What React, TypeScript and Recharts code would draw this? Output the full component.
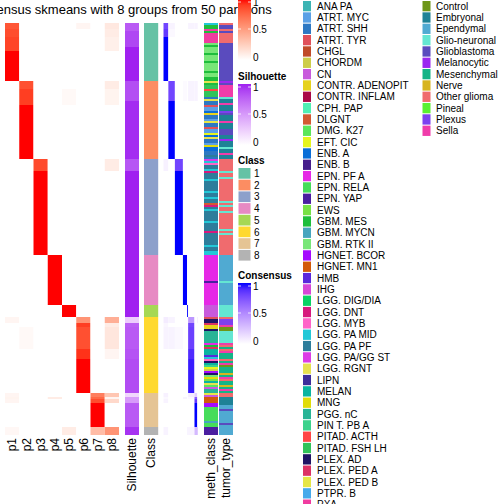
import React from "react";
import { BarChart, Bar, XAxis, YAxis, Cell } from "recharts";

const title = "Consensus skmeans with 8 groups from 50 partitions";
const classSizes = [29, 39, 48, 25, 6, 38, 17, 4];
const classColors = ["#66C2A5", "#FC8D62", "#8DA0CB", "#E78AC3", "#A6D854", "#FFD92F", "#E5C494", "#B3B3B3"];
const probColumns = ["p1", "p2", "p3", "p4", "p5", "p6", "p7", "p8"];

// per class: [rows, p1..p8]
const probRuns: number[][][] = [
  [[3, .82, 0, 0, 0, 0, .05, 0, .12], [4, .85, 0, 0, 0, 0, 0, 0, .1], [7, .88, 0, 0, 0, 0, 0, 0, .08], [15, 1, 0, 0, 0, 0, 0, 0, 0]],
  [[4, 0, .84, 0, 0, 0, 0, 0, .1], [8, 0, .9, 0, 0, .03, 0, 0, .06], [27, 0, 1, 0, 0, 0, 0, 0, 0]],
  [[6, 0, 0, .86, 0, 0, 0, 0, .1], [42, 0, 0, 1, 0, 0, 0, 0, 0]],
  [[25, 0, 0, 0, 1, 0, 0, 0, 0]],
  [[6, 0, 0, 0, 0, 1, 0, 0, 0]],
  [[3, .05, 0, 0, 0, 0, .55, 0, .42], [2, 0, 0, 0, 0, 0, .9, 0, .1], [11, 0, .03, 0, 0, 0, .84, 0, .13], [5, 0, 0, 0, 0, 0, .93, 0, .05], [17, 0, 0, 0, 0, 0, 1, 0, 0]],
  [[2, .05, 0, 0, 0, 0, 0, .65, .3], [1, .06, 0, 0, .1, 0, 0, .75, .05], [2, .05, 0, 0, 0, 0, 0, .85, .2], [12, 0, 0, 0, 0, 0, 0, 1, 0]],
  [[4, .04, 0, 0, 0, .1, 0, .35, .55]],
];

// per class: [rows, silhouette]
const silRuns: number[][][] = [
  [[4, .8], [8, .88], [17, 1]],
  [[10, .85], [29, .97]],
  [[6, .82], [42, 1]],
  [[25, 1]],
  [[6, 1]],
  [[3, .25], [2, .78], [11, .8], [5, .83], [17, .86]],
  [[2, .2], [3, .5], [12, .8]],
  [[4, .95]],
];

// per class: [rows, consensus with class 1..8]
const consRuns: number[][][] = [
  [[3, .8, .05, 0, 0, 0, .05, .05, .05], [4, .85, .03, 0, 0, 0, 0, 0, 0], [22, 1, 0, 0, 0, 0, 0, 0, 0]],
  [[10, 0, .8, 0, .02, 0, .05, .05, .05], [29, 0, 1, 0, 0, 0, 0, 0, 0]],
  [[6, .06, 0, .8, 0, 0, 0, 0, 0], [42, 0, 0, 1, 0, 0, 0, 0, 0]],
  [[25, 0, 0, 0, 1, 0, 0, 0, 0]],
  [[6, 0, 0, 0, 0, 1, 0, 0, 0]],
  [[3, .08, .05, 0, 0, 0, .45, 0, .1], [2, .04, 0, 0, 0, 0, .8, 0, 0], [11, .05, .05, .03, 0, 0, .82, 0, 0], [5, 0, 0, 0, 0, 0, .9, 0, 0], [17, 0, 0, 0, 0, 0, .95, 0, 0]],
  [[2, .06, 0, 0, 0, 0, .08, .2, 0], [1, .03, 0, 0, .05, 0, .03, .7, 0], [2, .05, 0, 0, 0, 0, 0, .85, 0], [12, 0, 0, 0, 0, 0, 0, 1, 0]],
  [[4, .05, 0, 0, 0, .05, .05, .3, .3]],
];

const methLevels: [string, string][] = [
  ["ANA PA", "#3CB4B4"], ["ATRT. MYC", "#5AA0E6"], ["ATRT. SHH", "#2D78C3"], ["ATRT. TYR", "#E0505A"],
  ["CHGL", "#C04A28"], ["CHORDM", "#CDCD4B"], ["CN", "#C85ADC"], ["CONTR. ADENOPIT", "#E6D21E"],
  ["CONTR. INFLAM", "#AA0A46"], ["CPH. PAP", "#50F0B4"], ["DLGNT", "#D25A32"], ["DMG. K27", "#5AE65A"],
  ["EFT. CIC", "#E6F51E"], ["ENB. A", "#0A6ED7"], ["ENB. B", "#461E8C"], ["EPN. PF A", "#E628E6"],
  ["EPN. RELA", "#46DC5A"], ["EPN. YAP", "#4B1EA0"], ["EWS", "#78E146"], ["GBM. MES", "#1EBE3C"],
  ["GBM. MYCN", "#46A5BE"], ["GBM. RTK II", "#78E678"], ["HGNET. BCOR", "#A50AFF"], ["HGNET. MN1", "#D25A0A"],
  ["HMB", "#5A28DC"], ["IHG", "#D746D7"], ["LGG. DIG/DIA", "#0AD264"], ["LGG. DNT", "#D7197D"],
  ["LGG. MYB", "#FF64C8"], ["LGG. PA MID", "#23C8D7"], ["LGG. PA PF", "#2D7D9B"], ["LGG. PA/GG ST", "#DC3CE6"],
  ["LGG. RGNT", "#E6E150"], ["LIPN", "#3C2D9B"], ["MELAN", "#0AB4A0"], ["MNG", "#E1DC0A"],
  ["PGG. nC", "#28B496"], ["PIN T. PB A", "#3CD28C"], ["PITAD. ACTH", "#FF4646"], ["PITAD. FSH LH", "#32C35A"],
  ["PLEX. AD", "#1E1464"], ["PLEX. PED A", "#DC3264"], ["PLEX. PED B", "#E6E646"], ["PTPR. B", "#46AAEB"],
  ["PXA", "#F03CA0"],
];

const tumorLevels: [string, string][] = [
  ["Control", "#6E9619"], ["Embryonal", "#1E8296"], ["Ependymal", "#50AAD2"], ["Glio-neuronal", "#64E6D2"],
  ["Glioblastoma", "#5A4BBE"], ["Melanocytic", "#9B28F0"], ["Mesenchymal", "#14B487"], ["Nerve", "#D7B41E"],
  ["Other glioma", "#F06B6E"], ["Pineal", "#5AF032"], ["Plexus", "#7D41F0"], ["Sella", "#F03CAA"],
];

const methRuns: [string, number][] = [
  ["LGG. PA MID", 1], ["GBM. MES", 2], ["PXA", 1], ["GBM. MES", 1], ["PXA", 5], ["GBM. RTK II", 1], ["GBM. MES", 1],
  ["GBM. RTK II", 3], ["GBM. MES", 1], ["GBM. RTK II", 3], ["GBM. MES", 1], ["GBM. RTK II", 4], ["GBM. MES", 1],
  ["GBM. RTK II", 2], ["GBM. MES", 2],
  ["LGG. RGNT", 1], ["GBM. MES", 1], ["PITAD. FSH LH", 2], ["PITAD. ACTH", 1], ["PITAD. FSH LH", 3], ["ATRT. SHH", 1],
  ["LGG. RGNT", 1], ["ATRT. SHH", 2], ["ATRT. TYR", 1], ["ATRT. MYC", 2], ["ENB. A", 1], ["CONTR. ADENOPIT", 1],
  ["ATRT. SHH", 2], ["ATRT. MYC", 1], ["PLEX. PED B", 1], ["ATRT. SHH", 2], ["ATRT. TYR", 1], ["ATRT. MYC", 2],
  ["EFT. CIC", 1], ["ENB. A", 1], ["LGG. RGNT", 1], ["ATRT. SHH", 2], ["ATRT. MYC", 1], ["MNG", 1], ["ENB. A", 2],
  ["ATRT. SHH", 2], ["LGG. PA PF", 1], ["ATRT. SHH", 1],
  ["LGG. PA/GG ST", 1], ["LGG. PA MID", 1], ["LGG. MYB", 1], ["LGG. PA PF", 2], ["LGG. PA MID", 1], ["LGG. DNT", 1],
  ["LGG. PA PF", 3], ["LGG. PA MID", 1], ["LGG. PA PF", 5], ["LGG. PA MID", 1], ["LGG. PA PF", 2], ["LGG. PA MID", 1],
  ["LGG. PA PF", 2], ["DLGNT", 1], ["LGG. DNT", 1], ["LGG. PA PF", 1], ["LGG. PA MID", 1], ["LGG. PA PF", 5],
  ["LGG. PA MID", 1], ["LGG. PA PF", 4], ["LGG. DNT", 1], ["LGG. PA PF", 6], ["LGG. PA MID", 1], ["LGG. PA PF", 2],
  ["LGG. PA MID", 2],
  ["EPN. PF A", 13], ["EPN. YAP", 1], ["EPN. PF A", 11],
  ["CN", 6],
  ["ATRT. TYR", 1], ["PLEX. AD", 2], ["PLEX. PED A", 1], ["CONTR. ADENOPIT", 2], ["PLEX. AD", 1], ["PGG. nC", 6],
  ["EPN. PF A", 1], ["GBM. MES", 1], ["PLEX. PED A", 1], ["MELAN", 3], ["HMB", 1], ["LGG. PA MID", 1], ["LGG. MYB", 1],
  ["PLEX. AD", 1], ["MELAN", 1], ["PIN T. PB A", 1], ["EFT. CIC", 1], ["CHORDM", 1], ["HGNET. BCOR", 1],
  ["PLEX. AD", 1], ["GBM. RTK II", 1], ["MNG", 1], ["EWS", 1], ["MELAN", 1], ["LGG. RGNT", 1], ["DMG. K27", 1],
  ["CN", 1], ["PGG. nC", 2],
  ["PLEX. PED B", 1], ["CN", 1], ["HGNET. MN1", 3], ["HGNET. BCOR", 2], ["EPN. RELA", 7], ["GBM. MYCN", 1], ["EPN. RELA", 2],
  ["EPN. YAP", 4],
];

const tumorRuns: [string, number][] = [
  ["Other glioma", 1], ["Glioblastoma", 2], ["Other glioma", 1], ["Glioblastoma", 1], ["Other glioma", 5], ["Glioblastoma", 19],
  ["Melanocytic", 1], ["Glioblastoma", 1], ["Sella", 6], ["Glio-neuronal", 1], ["Embryonal", 2], ["Sella", 1],
  ["Embryonal", 3], ["Plexus", 1], ["Glioblastoma", 1], ["Embryonal", 3], ["Sella", 1], ["Embryonal", 3],
  ["Glioblastoma", 3], ["Embryonal", 2], ["Melanocytic", 1], ["Embryonal", 3], ["Glio-neuronal", 1], ["Embryonal", 2],
  ["Sella", 1], ["Embryonal", 2],
  ["Other glioma", 6], ["Glio-neuronal", 1], ["Other glioma", 2], ["Glio-neuronal", 1], ["Other glioma", 11],
  ["Glio-neuronal", 1], ["Other glioma", 1], ["Glio-neuronal", 1], ["Other glioma", 2], ["Glio-neuronal", 1],
  ["Other glioma", 8], ["Glio-neuronal", 1], ["Other glioma", 1], ["Glio-neuronal", 1], ["Other glioma", 10],
  ["Ependymal", 13], ["Glio-neuronal", 1], ["Ependymal", 11],
  ["Glio-neuronal", 6],
  ["Other glioma", 1], ["Plexus", 3], ["Sella", 1], ["Control", 2], ["Glio-neuronal", 6], ["Sella", 1],
  ["Other glioma", 1], ["Mesenchymal", 1], ["Other glioma", 1], ["Sella", 1], ["Mesenchymal", 3], ["Other glioma", 1],
  ["Mesenchymal", 1], ["Sella", 1], ["Control", 1], ["Mesenchymal", 3], ["Nerve", 1], ["Mesenchymal", 1], ["Sella", 1],
  ["Other glioma", 1], ["Mesenchymal", 2], ["Nerve", 1], ["Mesenchymal", 1], ["Sella", 1], ["Mesenchymal", 1],
  ["Other glioma", 2], ["Embryonal", 4], ["Ependymal", 2], ["Glioblastoma", 1], ["Ependymal", 6], ["Glioblastoma", 1], ["Ependymal", 1],
  ["Ependymal", 4],
];

// ---- colour ramps (white -> colour, interpolated in Lab like circlize::colorRamp2)
const toLin = (c: number) => { c /= 255; return c <= 0.04045 ? c / 12.92 : ((c + 0.055) / 1.055) ** 2.4; };
const fromLin = (c: number) => {
  const v = c <= 0.0031308 ? 12.92 * c : 1.055 * Math.pow(Math.max(c, 0), 1 / 2.4) - 0.055;
  return Math.round(Math.max(0, Math.min(1, v)) * 255);
};
const hexRgb = (h: string) => [1, 3, 5].map((i) => parseInt(h.slice(i, i + 2), 16));
function toLab(rgb: number[]) {
  const [R, G, B] = rgb.map(toLin);
  const x = (R * 0.4124 + G * 0.3576 + B * 0.1805) / 0.95047;
  const y = R * 0.2126 + G * 0.7152 + B * 0.0722;
  const z = (R * 0.0193 + G * 0.1192 + B * 0.9505) / 1.08883;
  const f = (t: number) => (t > 0.008856 ? Math.cbrt(t) : 7.787 * t + 16 / 116);
  return [116 * f(y) - 16, 500 * (f(x) - f(y)), 200 * (f(y) - f(z))];
}
function fromLab([L, a, b]: number[]) {
  const fy = (L + 16) / 116, fx = fy + a / 500, fz = fy - b / 200;
  const inv = (t: number) => (t ** 3 > 0.008856 ? t ** 3 : (t - 16 / 116) / 7.787);
  const x = inv(fx) * 0.95047, y = inv(fy), z = inv(fz) * 1.08883;
  const r = 3.2406 * x - 1.5372 * y - 0.4986 * z;
  const g = -0.9689 * x + 1.8758 * y + 0.0415 * z;
  const bb = 0.0557 * x - 0.204 * y + 1.057 * z;
  return `rgb(${fromLin(r)},${fromLin(g)},${fromLin(bb)})`;
}
const ramp = (hex: string) => {
  const w = toLab([255, 255, 255]);
  const c = toLab(hexRgb(hex));
  return (v: number) => fromLab(w.map((wv, i) => wv + (c[i] - wv) * Math.max(0, Math.min(1, v))));
};
const red = ramp("#FF0000");
const purple = ramp("#A020F0");
const blue = ramp("#0000FF");

// ---- expand runs to one row per sample
const flatRuns = (runs: number[][][]) => runs.flat().flatMap((r) => Array(r[0]).fill(r.slice(1)));
const expand = (runs: [string, number][]) => runs.flatMap(([v, n]) => Array(n).fill(v));
const probs = flatRuns(probRuns);
const sils = flatRuns(silRuns);
const cons = flatRuns(consRuns);
const meths = expand(methRuns);
const tumors = expand(tumorRuns);
const classOf = classSizes.flatMap((n, k) => Array(n).fill(k));
const N = classOf.length;
const methColor = Object.fromEntries(methLevels);
const tumorColor = Object.fromEntries(tumorLevels);

type Sample = { cls: number; p: number[]; sil: number; cons: number[]; meth: string; tumor: string };
const samples: Sample[] = classOf.map((cls, i) => ({
  cls, p: probs[i], sil: sils[i][0], cons: cons[i], meth: meths[i], tumor: tumors[i],
}));

type Seg = { key: string; w: number; label?: string; color?: (s: Sample) => string };
const segs: Seg[] = [
  ...probColumns.map((name, k) => ({ key: name, w: 14.25, label: name, color: (s: Sample) => red(s.p[k]) })),
  { key: "g1", w: 6 },
  { key: "sil", w: 14, label: "Silhouette", color: (s) => purple(s.sil) },
  { key: "g2", w: 5 },
  { key: "cls", w: 14.2, label: "Class", color: (s) => classColors[s.cls] },
  { key: "g3", w: 5.3 },
  ...classSizes.map((n, k) => ({ key: "c" + k, w: (34.5 * n) / N, color: (s: Sample) => blue(s.cons[k]) })),
  { key: "g4", w: 6 },
  { key: "meth", w: 14, label: "meth_class", color: (s) => methColor[s.meth] },
  { key: "g5", w: 1 },
  { key: "tumor", w: 14, label: "tumor_type", color: (s) => tumorColor[s.tumor] },
];
const totalW = segs.reduce((a, s) => a + s.w, 0);
const tickPos: number[] = [];
const tickLabels: string[] = [];
segs.reduce((x, s) => {
  if (s.label) { tickPos.push(x + s.w / 2); tickLabels.push(s.label); }
  return x + s.w;
}, 0);

const rows = samples.map((_, i) => ({ id: "s" + i, ...Object.fromEntries(segs.map((s) => [s.key, s.w])) }));

const FONT = "'Liberation Sans', Arial, Helvetica, sans-serif";
const LABEL_TOP = 438;

const ColTick = (props: any) => {
  const { x, index } = props;
  return (
    <text x={x} y={LABEL_TOP} transform={`rotate(-90 ${x} ${LABEL_TOP})`} textAnchor="end" dy="0.35em"
      fontSize={12} fontFamily={FONT} fill="#000">{tickLabels[index]}</text>
  );
};

const GradLegend = ({ id, fn, top, name }: { id: string; fn: (v: number) => string; top: number; name?: string }) => (
  <g fontFamily={FONT} fontSize={10}>
    <defs>
      <linearGradient id={id} x1="0" y1="0" x2="0" y2="1">
        {Array.from({ length: 11 }, (_, i) => <stop key={i} offset={i / 10} stopColor={fn(1 - i / 10)} />)}
      </linearGradient>
    </defs>
    {name && <text x={238} y={top - 4} fontWeight="bold">{name}</text>}
    <rect x={238} y={top} width={13} height={61} fill={`url(#${id})`} />
    {[3, 30].map((d) => (
      <g key={d} stroke="#fff" strokeWidth={0.8}>
        <line x1={238} x2={241} y1={top + d} y2={top + d} />
        <line x1={248} x2={251} y1={top + d} y2={top + d} />
      </g>
    ))}
    {[["1", 3], ["0.5", 30], ["0", 58]].map(([t, d]) => (
      <text key={t} x={253} y={top + (d as number)} dy="0.35em">{t}</text>
    ))}
  </g>
);

const Legends = () => (
  <svg width={504} height={504} style={{ position: "absolute", left: 0, top: 0, pointerEvents: "none" }}>
    <text x={119} y={14} textAnchor="middle" fontSize={13} fontFamily={FONT} fill="#000">{title}</text>
    <GradLegend id="gProb" fn={red} top={-1} />
    <GradLegend id="gSil" fn={purple} top={84} name="Silhouette" />
    <GradLegend id="gCons" fn={blue} top={283} name="Consensus" />
    <g fontFamily={FONT} fontSize={10}>
      <text x={238} y={164} fontWeight="bold">Class</text>
      {classColors.map((c, i) => (
        <g key={i}>
          <rect x={238.5} y={168 + 11.7 * i} width={12} height={10.7} fill={c} />
          <text x={254} y={173.5 + 11.7 * i} dy="0.35em">{i + 1}</text>
        </g>
      ))}
      {methLevels.map(([name, c], i) => (
        <g key={name}>
          <rect x={303} y={1 + 11.33 * i} width={8} height={10.3} fill={c} />
          <text x={317} y={6.2 + 11.33 * i} dy="0.35em">{name}</text>
        </g>
      ))}
      {tumorLevels.map(([name, c], i) => (
        <g key={name}>
          <rect x={422.5} y={1 + 11.33 * i} width={8} height={10.3} fill={c} />
          <text x={436} y={6.2 + 11.33 * i} dy="0.35em">{name}</text>
        </g>
      ))}
    </g>
  </svg>
);

export default function App() {
  return (
    <div style={{ position: "fixed", left: 0, top: 0, width: 504, height: 504, background: "#fff" }}>
      <BarChart width={504} height={504} data={rows} layout="vertical"
        margin={{ top: 23, right: 504 - 5 - totalW, bottom: 0, left: 5 }} barCategoryGap={0} barGap={0}>
        <XAxis type="number" domain={[0, totalW]} ticks={tickPos} interval={0} tick={<ColTick />}
          axisLine={false} tickLine={false} height={69} />
        <YAxis type="category" dataKey="id" hide width={0} />
        {segs.map((s) => (
          <Bar key={s.key} dataKey={s.key} stackId="hm" isAnimationActive={false}
            fill={s.color ? "#fff" : "transparent"}>
            {s.color && samples.map((smp, i) => <Cell key={i} fill={s.color!(smp)} />)}
          </Bar>
        ))}
      </BarChart>
      <Legends />
    </div>
  );
}
